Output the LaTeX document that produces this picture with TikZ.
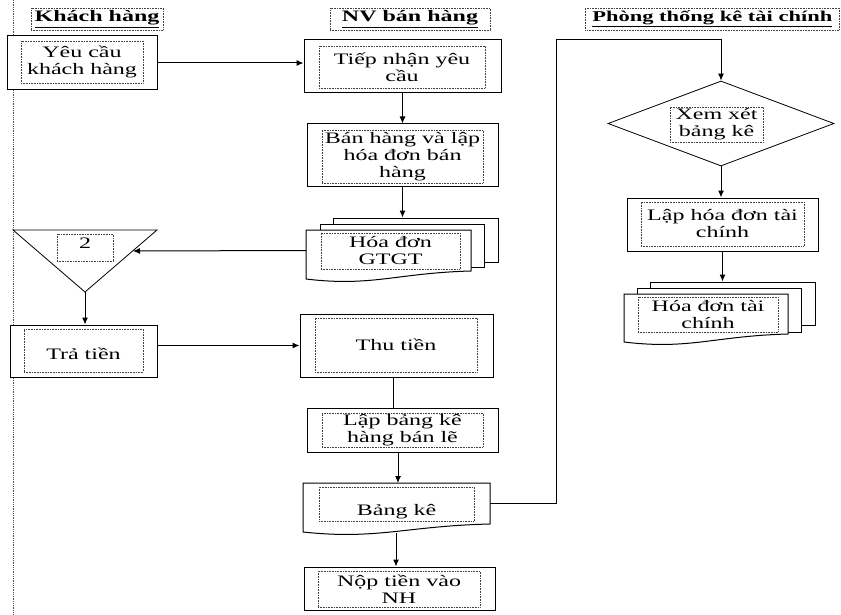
\documentclass[tikz,border=0pt]{standalone}
\usepackage{fontspec}
\setmainfont{Liberation Serif}[FakeStretch=1.5]
\usetikzlibrary{arrows.meta,shapes.geometric}

% document outline with a wavy lower edge: x1, y-top, x2, y-bottom (right side)
\newcommand\docpath[4]{%
  \pgfmathsetmacro\docw{#3-#1}%
  \draw[docline] (#1,#2) -- (#3,#2) -- (#3,#4)
    .. controls ({#3-0.45*\docw},{#4+2}) and ({#1+0.4*\docw},{#4+16}) .. (#1,{#4+8}) -- cycle;}

\begin{document}
\begin{tikzpicture}[x=1pt,y=-1pt,
  outer/.style={draw, line width=1pt, fill=white, inner sep=0pt},
  docline/.style={draw, line width=1pt, fill=white},
  anchorbox/.style={inner sep=0pt},
  dotbox/.style={draw=black!75, densely dotted, line width=0.6pt, inner sep=0pt,
    align=center, font=\fontsize{16}{17}\selectfont},
  plain/.style={inner sep=0pt, align=center, font=\fontsize{16}{17}\selectfont},
  title/.style={draw=black!75, densely dotted, line width=0.6pt, inner sep=0pt,
    font=\fontsize{16}{17}\selectfont\bfseries},
  flow/.style={line width=1pt, -{Latex[length=7pt,width=6pt]}},
  link/.style={line width=1pt},
  lane/.style={draw=black!70, densely dotted, line width=0.8pt},
]
\clip (0,0) rectangle (841,615);

% swimlane separator
\draw[lane] (13,0) -- (13,615);

% lane headings
\node[title, minimum width=132, minimum height=22] (hKH) at (97,19) {\underline{Khách hàng}};
\node[title, minimum width=160, minimum height=22] (hNV) at (410,19) {\underline{NV bán hàng}};
\node[title, minimum height=22, anchor=west, inner xsep=7pt,
  font=\fontsize{15}{17}\selectfont\bfseries] (hPT) at (585,19)
  {\underline{Phòng thống kê tài chính}\hspace{20pt}};

% ---- Khách hàng ----
\node[outer, minimum width=150, minimum height=54] (yc) at (82,63) {};
\node[dotbox, minimum width=122, minimum height=42] (ycT) at (82,62) {Yêu cầu\\khách hàng};

\draw[line width=0.8pt, fill=white] (13,230) -- (157,230) -- (85,292) -- cycle;
\coordinate (triR) at (133,251);
\coordinate (triA) at (85,292);
\node[dotbox, minimum width=56, minimum height=27] (triT) at (85,247.5) {};
\node[plain] (triN) at (85,243) {2};

\node[outer, minimum width=147, minimum height=52] (tt) at (83.5,351) {};
\node[dotbox, minimum width=119, minimum height=43] (ttT) at (83.5,350.5) {};
\node[plain] (ttN) at (83.5,354) {Trả tiền};

% ---- NV bán hàng ----
\node[outer, minimum width=197, minimum height=53] (tn) at (402.5,66.5) {};
\node[dotbox, minimum width=166, minimum height=42] (tnT) at (402,67) {Tiếp nhận yêu\\cầu};

\node[outer, minimum width=191, minimum height=63] (bh) at (402.5,155.5) {};
\node[dotbox, minimum width=161, minimum height=53] (bhT) at (402.5,156.5) {Bán hàng và lập\\hóa đơn bán\\hàng};

\node[outer, minimum width=165, minimum height=44] (gtgtB) at (415.5,240) {};
\node[outer, minimum width=164, minimum height=43] (gtgtM) at (402,245.5) {};
\docpath{306}{230}{471}{271}
\node[anchorbox, minimum width=165, minimum height=41] (gtgt) at (388.5,250.5) {};
\node[dotbox, minimum width=139, minimum height=36] (gtgtT) at (390.5,251) {Hóa đơn\\GTGT};

\node[outer, minimum width=193, minimum height=63] (thu) at (396.5,345.5) {};
\node[dotbox, minimum width=162, minimum height=54] (thuT) at (396,345) {Thu tiền};

\node[outer, minimum width=191, minimum height=44] (lbk) at (402.5,430) {};
\node[dotbox, minimum width=161, minimum height=34] (lbkT) at (402.5,430) {Lập bảng kê\\hàng bán lẽ};

\docpath{303}{483}{490}{524}
\node[anchorbox, minimum width=187, minimum height=40] (bk) at (396.5,503) {};
\node[dotbox, minimum width=155, minimum height=34] (bkT) at (396.5,504) {};
\node[plain] (bkN) at (396.5,512) {Bảng kê};
\coordinate (bkb) at (396,533);

\node[outer, minimum width=191, minimum height=43] (nop) at (399.5,588.5) {};
\node[dotbox, minimum width=162, minimum height=36] (nopT) at (399,589) {Nộp tiền vào\\NH};

% ---- Phòng thống kê tài chính ----
\node[draw, diamond, line width=0.8pt, inner sep=0pt, minimum width=226, minimum height=85] (dia) at (721,123.5) {};
\node[dotbox, minimum width=93, minimum height=35] (diaT) at (716.5,124.5) {Xem xét\\bảng kê};

\node[outer, minimum width=191, minimum height=53] (lhd) at (722.5,224.5) {};
\node[dotbox, minimum width=163, minimum height=44] (lhdT) at (722.5,224) {Lập hóa đơn tài\\chính};

\node[outer, minimum width=165, minimum height=43] (hdB) at (732.5,303.5) {};
\node[outer, minimum width=164, minimum height=44] (hdM) at (719,310) {};
\docpath{624}{294}{788}{334}
\node[anchorbox, minimum width=164, minimum height=40] (hd) at (706,314) {};
\node[dotbox, minimum width=140, minimum height=35] (hdT) at (708,314.5) {Hóa đơn tài\\chính};

% ---- connectors ----
\draw[flow] (yc.east) -- (yc.east -| tn.west);
\draw[flow] (tn.south) -- (bh.north);
\draw[flow] (bh.south) -- (bh.south |- gtgtB.north);
\draw[flow] (gtgt.west) -- (triR);
\draw[flow] (triA) -- (triA |- tt.north);
\draw[flow] (thu.west -| tt.east) -- (thu.west);
\draw[link] (thu.south -| 393,0) -- (393,408);
\draw[flow] (lbk.south -| 398,0) -- (398,483);
\draw[flow] (bkb) -- (bkb |- nop.north);
\draw[flow] (bk.east) -- ++(66,0) -- ++(0,-463) -| (dia.north);
\draw[flow] (dia.south) -- (dia.south |- lhd.north);
\draw[flow] (lhd.south) -- (lhd.south |- hdB.north);
\end{tikzpicture}
\end{document}
